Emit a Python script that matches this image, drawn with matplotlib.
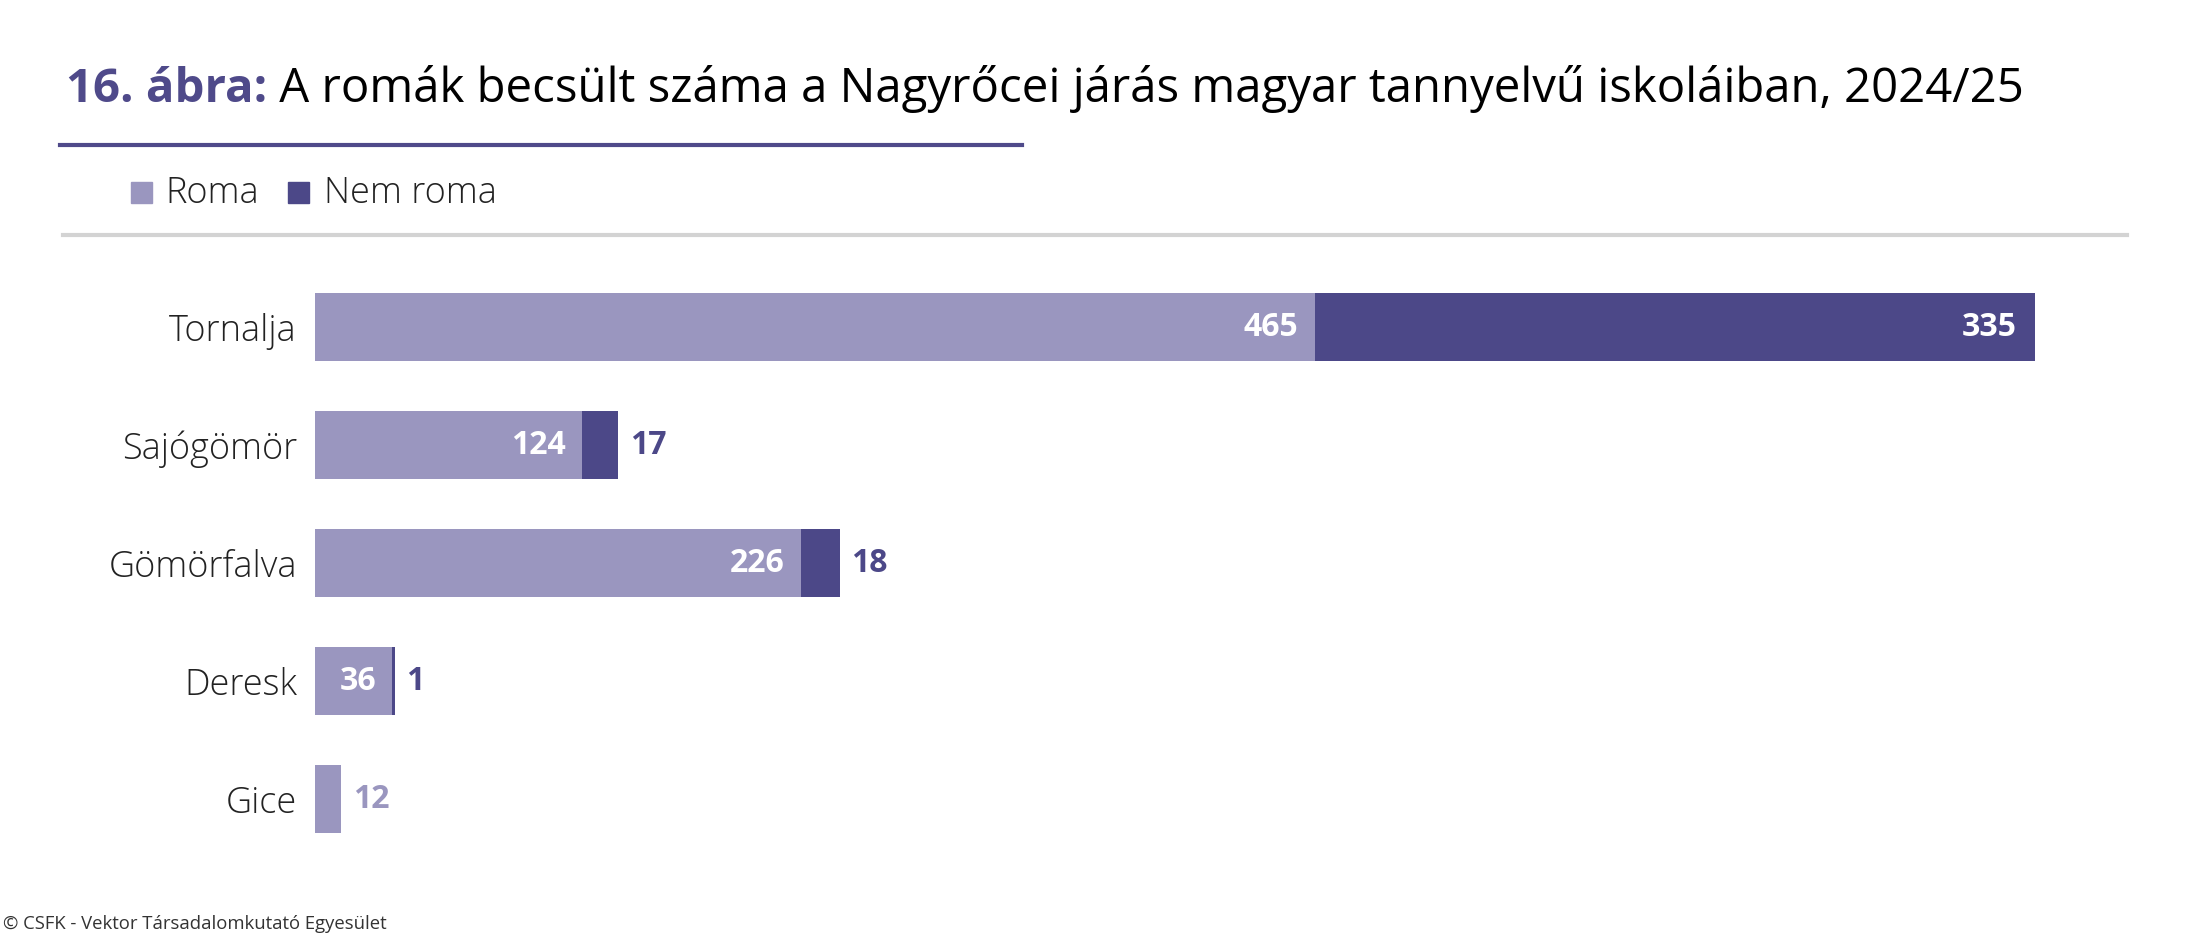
import matplotlib
matplotlib.use('Agg')
import matplotlib.pyplot as plt
from matplotlib.patches import Rectangle
from matplotlib.lines import Line2D

places = ['Tornalja', 'Sajógömör', 'Gömörfalva', 'Deresk', 'Gice']
roma = [465, 124, 226, 36, 12]
nem_roma = [335, 17, 18, 1, 0]

light = '#9a96bf'
dark = '#4c4888'
font = 'Open Sans'

W, H = 2187, 942
fig = plt.figure(figsize=(W / 100, H / 100), dpi=100)
plt.rcParams['font.family'] = [font, 'DejaVu Sans']

def fx(px):
    return px / W

def fy(py):
    return 1 - py / H

# title: bold purple part + black rest, fit to width
t1 = fig.text(fx(66), fy(102), '16. ábra:', fontsize=34, fontweight='bold', color='#4f4a8a', va='baseline')
t2 = fig.text(0, fy(102), ' A romák becsült száma a Nagyrőcei járás magyar tannyelvű iskoláiban, 2024/25',
              fontsize=34, color='black', va='baseline')
fig.canvas.draw()
r = fig.canvas.get_renderer()
w1 = t1.get_window_extent(r).width
w2 = t2.get_window_extent(r).width
scale = (2025 - 66) / (w1 + w2)
t1.set_fontsize(34 * scale)
t2.set_fontsize(34 * scale)
fig.canvas.draw()
w1 = t1.get_window_extent(r).width
t2.set_x(fx(66 + w1))

# lines
fig.add_artist(Line2D([fx(60), fx(1022)], [fy(145), fy(145)], color='#4f4a8a', lw=3))
fig.add_artist(Line2D([fx(63), fx(2127)], [fy(235), fy(235)], color='#d3d3d3', lw=3))

# legend
for x0, tx, c, lab in [(131, 165, light, 'Roma'), (288, 324, dark, 'Nem roma')]:
    fig.add_artist(Rectangle((fx(x0), fy(203)), fx(21), 21 / H, color=c, transform=fig.transFigure))
    fig.text(fx(tx), fy(203), lab, fontsize=26, fontweight='light', color='#222222', va='baseline')

# bars
ax = fig.add_axes([fx(315), fy(858), fx(2035 - 315), 590 / H])
y = list(range(len(places)))
ax.barh(y, roma, height=0.57, color=light)
ax.barh(y, nem_roma, left=roma, height=0.57, color=dark)
ax.set_xlim(0, 800)
ax.set_ylim(4.5, -0.5)
ax.set_yticks(y)
ax.set_yticklabels(places, fontsize=26, fontweight='light', color='#222222')
ax.tick_params(axis='y', length=0, pad=13)
ax.set_xticks([])
for s in ax.spines.values():
    s.set_visible(False)

for i in y:
    total = roma[i] + nem_roma[i]
    if nem_roma[i] > 0:
        ax.text(roma[i] - 7.5, i, str(roma[i]), color='white', fontsize=23, fontweight='bold',
                ha='right', va='center')
        if nem_roma[i] > 50:
            ax.text(total - 8.5, i, str(nem_roma[i]), color='white', fontsize=23, fontweight='bold',
                    ha='right', va='center')
        else:
            ax.text(total + 5.5, i, str(nem_roma[i]), color=dark, fontsize=23, fontweight='bold',
                    ha='left', va='center')
    else:
        ax.text(total + 5.5, i, str(roma[i]), color=light, fontsize=23, fontweight='bold',
                ha='left', va='center')

fig.text(fx(3), fy(929), '© CSFK - Vektor Társadalomkutató Egyesület', fontsize=13.3, color='#333333', va='baseline')

fig.savefig('out.png', dpi=100)
